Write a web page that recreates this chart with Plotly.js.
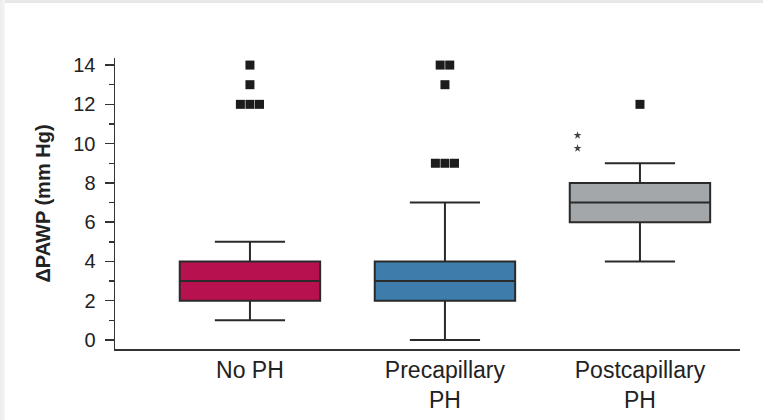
<!DOCTYPE html>
<html>
<head>
<meta charset="utf-8">
<script src="https://cdn.plot.ly/plotly-3.0.1.min.js"></script>
<style>
html,body{margin:0;padding:0;background:#fff;}
#wrap{position:relative;width:763px;height:420px;}
#chart{width:763px;height:420px;}
#bt{position:absolute;left:0;top:0;width:763px;height:3px;background:#e8e8e8;}
#bl{position:absolute;left:0;top:0;width:5px;height:420px;background:linear-gradient(to right,#ececec,#f6f6f6);}
</style>
</head>
<body>
<div id="wrap"><div id="chart"></div><div id="bt"></div><div id="bl"></div></div>
<script>
// Data
var categories = ['No PH', 'Precapillary<br>PH', 'Postcapillary<br>PH'];
var q1 = [2, 2, 6];
var median = [3, 3, 7];
var q3 = [4, 4, 8];
var lowerWhisker = [1, 0, 4];
var upperWhisker = [5, 7, 9];
var outliersNoPH = [14, 13, 12, 12, 12];
var outliersPrecap = [14, 14, 13, 9, 9, 9];
var outliersPostcap = [12];
var starsPostcap = [10.42, 9.76];
var yTicks = [0, 2, 4, 6, 8, 10, 12, 14];

var fills = ['#B8114F', '#3D7CAB', '#A4A7AA'];
var lineCol = '#2a2a2a';

var traces = [];
for (var i = 0; i < categories.length; i++) {
  traces.push({
    type: 'box',
    x: [i],
    q1: [q1[i]], median: [median[i]], q3: [q3[i]],
    lowerfence: [lowerWhisker[i]], upperfence: [upperWhisker[i]],
    width: 0.72,
    whiskerwidth: 0.5,
    fillcolor: fills[i],
    line: {color: lineCol, width: 2},
    boxpoints: false,
    hoverinfo: 'skip',
    showlegend: false
  });
}

// outlier squares, side-by-side for repeated values
var allOut = [outliersNoPH, outliersPrecap, outliersPostcap];
var ox = [], oy = [];
var step = 0.049;
allOut.forEach(function (arr, ci) {
  var counts = {};
  arr.forEach(function (v) { counts[v] = (counts[v] || 0) + 1; });
  Object.keys(counts).forEach(function (k) {
    var n = counts[k];
    for (var j = 0; j < n; j++) {
      ox.push(ci + (j - (n - 1) / 2) * step);
      oy.push(+k);
    }
  });
});
traces.push({
  type: 'scatter', mode: 'markers', x: ox, y: oy,
  marker: {symbol: 'square', size: 9, color: '#1c1c1c', line: {width: 0}},
  hoverinfo: 'skip', showlegend: false
});
traces.push({
  type: 'scatter', mode: 'markers',
  x: starsPostcap.map(function () { return 2 - 0.32; }),
  y: starsPostcap,
  marker: {symbol: 'star', size: 6, color: '#444', line: {width: 0}},
  hoverinfo: 'skip', showlegend: false
});

var layout = {
  width: 763, height: 420,
  margin: {l: 115, r: 23, t: 58, b: 71},
  paper_bgcolor: '#fff', plot_bgcolor: '#fff',
  font: {family: 'Liberation Sans, Arial, sans-serif', color: '#222'},
  boxmode: 'overlay',
  showlegend: false,
  xaxis: {
    range: [-0.692, 2.513],
    tickvals: [0, 1, 2],
    ticktext: categories,
    ticks: '',
    showgrid: false, zeroline: false,
    showline: true, linecolor: '#333', linewidth: 1.5,
    tickfont: {size: 23, color: '#222'},
    ticklabelstandoff: 0,
    fixedrange: true
  },
  yaxis: {
    range: [-0.46, 14.36],
    tickvals: yTicks,
    ticks: 'outside', ticklen: 9, tickwidth: 1.5, tickcolor: '#333',
    minor: {dtick: 1, ticks: 'outside', ticklen: 5, tickwidth: 1.5, tickcolor: '#333'},
    showgrid: false, zeroline: false,
    showline: true, linecolor: '#333', linewidth: 1.5,
    tickfont: {size: 20, color: '#222'},
    ticklabelstandoff: 5,
    title: {text: 'ΔPAWP (mm Hg)', font: {size: 20, color: '#222', family: 'Liberation Sans, Arial, sans-serif', weight: 'bold'}, standoff: 17},
    fixedrange: true
  }
};

Plotly.newPlot('chart', traces, layout, {displayModeBar: false, staticPlot: true});
</script>
</body>
</html>
